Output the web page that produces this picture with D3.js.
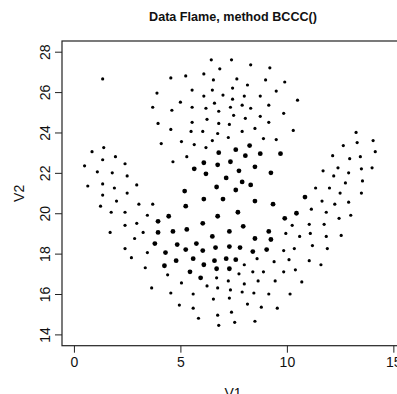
<!DOCTYPE html>
<html>
<head>
<meta charset="utf-8">
<script src="https://d3js.org/d3.v7.min.js"></script>
<style>
  body { margin: 0; background: #fff; }
  text { font-family: "Liberation Sans", Arial, sans-serif; fill: #111; }
</style>
</head>
<body>
<div id="chart"></div>
<script>
// points drawn small (pch 20)
var v1Small = [6.45,7.4,6.85,8.3,9.2,9.9,4.55,5.25,6.1,6.55,7.65,8.15,9.0,3.9,5.55,6.5,7.45,7.0,6.1,7.45,
  8.0,8.75,9.5,10.5,5.0,6.6,3.7,4.6,5.55,6.2,6.8,7.35,7.9,8.3,9.15,9.85,7.5,8.05,8.75,6.25,
  5.55,6.8,7.3,3.95,9.15,4.55,5.5,6.05,6.75,7.9,8.5,10.3,7.25,8.9,9.5,4.1,5.05,5.65,6.2,6.5,5.3,4.65,
  3.45,2.7,3.35,4.4,3.65,4.55,5.05,5.6,4.95,5.6,5.85,6.7,7.25,7.75,8.0,8.6,9.4,8.4,8.9,9.85,
  10.4,8.65,9.45,10.7,8.0,6.25,6.75,7.35,7.9,8.45,9.15,10.15,6.55,7.3,8.15,8.8,9.55,7.4,6.75,7.55,
  8.5,6.8,9.85,10.35,11.2,11.9,10.1,11.05,11.6,
  13.25,14.05,12.65,13.3,14.15,12.15,12.95,13.45,12.4,13.5,14.0,11.7,12.2,12.9,13.55,12.75,11.35,12.0,
  12.5,13.5,11.65,12.25,12.9,11.15,11.85,12.45,13.0,10.25,11.05,11.75,9.95,10.6,11.1,11.85,12.55,
  1.35,0.85,1.4,0.5,1.35,1.95,2.4,1.1,1.8,2.5,0.65,1.35,1.9,2.95,1.35,2.5,2.0,1.25,1.75,2.4,
  3.05,3.7,3.45,2.95,2.4,3.25,1.7,2.85,2.4];
var v2Small = [27.6,27.6,27.15,27.35,27.2,26.5,26.7,26.8,26.9,26.6,26.65,26.35,26.6,25.95,26.1,26.1,26.2,25.85,25.8,25.65,
  25.8,25.8,26.05,25.6,25.5,25.45,25.25,25.1,25.25,25.2,25.05,25.25,25.35,25.2,25.35,24.95,24.85,24.7,24.8,24.65,
  24.5,24.45,24.4,24.45,24.5,24.15,24.05,24.05,23.95,24.05,24.2,24.1,23.75,23.7,23.65,23.45,23.55,23.4,23.25,23.6,22.8,22.55,
  18.05,17.8,17.3,16.95,16.3,16.05,16.55,16.0,15.45,15.3,14.8,16.8,16.65,17.0,17.45,17.75,17.6,17.1,17.1,17.1,
  17.2,16.65,16.65,16.6,16.5,16.4,16.3,16.2,16.1,16.05,16.0,16.0,15.75,15.8,15.5,15.35,15.3,15.1,14.95,14.6,
  14.65,14.45,18.15,18.25,18.4,18.25,17.7,17.65,17.45,
  24.0,23.6,23.35,23.5,23.05,22.85,22.7,22.8,22.25,22.2,22.25,22.1,21.85,22.0,21.6,21.5,21.25,21.25,
  21.0,21.0,20.6,20.45,20.55,20.2,20.05,19.75,19.9,19.4,19.45,19.45,19.0,18.85,19.0,18.85,18.9,
  26.65,23.05,23.25,22.35,22.65,22.8,22.45,22.05,22.0,21.85,21.35,21.45,21.25,21.4,20.9,21.0,20.6,20.35,20.05,20.05,
  20.45,20.45,19.9,19.5,19.4,19.05,19.05,18.75,18.25];

// points drawn big
var v1Big = [8.25,7.6,6.8,8.05,8.75,9.7,6.1,6.75,7.35,5.65,6.2,7.75,8.5,9.25,7.15,7.9,8.3,6.7,7.6,5.2,
  6.1,7.0,8.5,9.35,10.85,6.05,6.75,7.7,4.45,3.95,5.25,7.95,7.3,6.5,9.15,9.25,8.5,3.95,4.65,5.3,
  5.75,3.8,4.85,4.3,5.25,6.05,6.65,7.3,7.8,8.4,9.05,4.8,5.6,4.25,6.1,6.6,7.15,7.6,5.45,6.7,
  7.3,5.95,10.45,9.9];
var v2Big = [23.35,23.15,23.0,22.85,22.95,22.95,22.5,22.4,22.55,22.2,21.95,22.1,22.3,22.0,21.75,21.55,21.4,21.3,21.15,21.1,
  20.7,20.7,20.6,20.45,20.8,19.5,19.85,20.05,19.85,19.6,20.35,19.35,19.1,18.85,19.1,18.7,18.75,19.05,19.1,19.2,
  18.5,18.5,18.45,18.05,18.2,18.15,18.3,18.35,18.3,18.1,18.2,17.65,17.75,17.4,17.45,17.65,17.75,17.7,17.1,17.25,
  17.25,16.8,20.0,19.75];

var xTicks = [0, 5, 10, 15];
var yTicks = [14, 16, 18, 20, 22, 24, 26, 28];

var W = 397, H = 394;
// plot box (right side runs past the window, as in the picture)
var box = {left: 62, top: 41, right: 404, bottom: 345.7};

var svg = d3.select("#chart").append("svg")
  .attr("width", W).attr("height", H);

var x = d3.scaleLinear().domain([-0.56, 15.5]).range([box.left, box.right]);
var y = d3.scaleLinear().domain([13.44, 28.53]).range([box.bottom, box.top]);

// title
svg.append("text")
  .attr("x", (box.left + box.right) / 2).attr("y", 21)
  .attr("text-anchor", "middle")
  .style("font-size", "12.6px").style("font-weight", "bold")
  .text("Data Flame, method BCCC()");

// axes
var xAxis = svg.append("g")
  .attr("transform", "translate(0," + box.bottom + ")")
  .call(d3.axisBottom(x).tickValues(xTicks).tickSize(7).tickPadding(4).tickFormat(d3.format("d")));
var yAxis = svg.append("g")
  .attr("transform", "translate(" + box.left + ",0)")
  .call(d3.axisLeft(y).tickValues(yTicks).tickSize(7).tickFormat(d3.format("d")));

xAxis.select(".domain").remove();
yAxis.select(".domain").remove();
svg.selectAll(".tick line").attr("stroke", "#222");
xAxis.selectAll("text").style("font-size", "14px").attr("fill", "#111");
yAxis.selectAll("text")
  .style("font-size", "14px").attr("fill", "#111")
  .attr("text-anchor", "middle")
  .attr("dy", null)
  .attr("x", 0).attr("y", 0)
  .attr("transform", "translate(-12,0) rotate(-90)");

// box
svg.append("rect")
  .attr("x", box.left).attr("y", box.top)
  .attr("width", box.right - box.left).attr("height", box.bottom - box.top)
  .attr("fill", "none").attr("stroke", "#222").attr("stroke-width", 1.2);

// axis titles
svg.append("text")
  .attr("x", (box.left + box.right) / 2).attr("y", 398)
  .attr("text-anchor", "middle").style("font-size", "14px")
  .text("V1");
svg.append("text")
  .attr("transform", "translate(24," + ((box.top + box.bottom) / 2) + ") rotate(-90)")
  .attr("text-anchor", "middle").style("font-size", "14px")
  .text("V2");

// points
svg.append("g").selectAll("circle")
  .data(d3.range(v1Small.length))
  .enter().append("circle")
    .attr("cx", function(i) { return x(v1Small[i]); })
    .attr("cy", function(i) { return y(v2Small[i]); })
    .attr("r", 1.6)
    .attr("fill", "#000");

svg.append("g").selectAll("circle")
  .data(d3.range(v1Big.length))
  .enter().append("circle")
    .attr("cx", function(i) { return x(v1Big[i]); })
    .attr("cy", function(i) { return y(v2Big[i]); })
    .attr("r", 2.4)
    .attr("fill", "#000");
</script>
</body>
</html>
